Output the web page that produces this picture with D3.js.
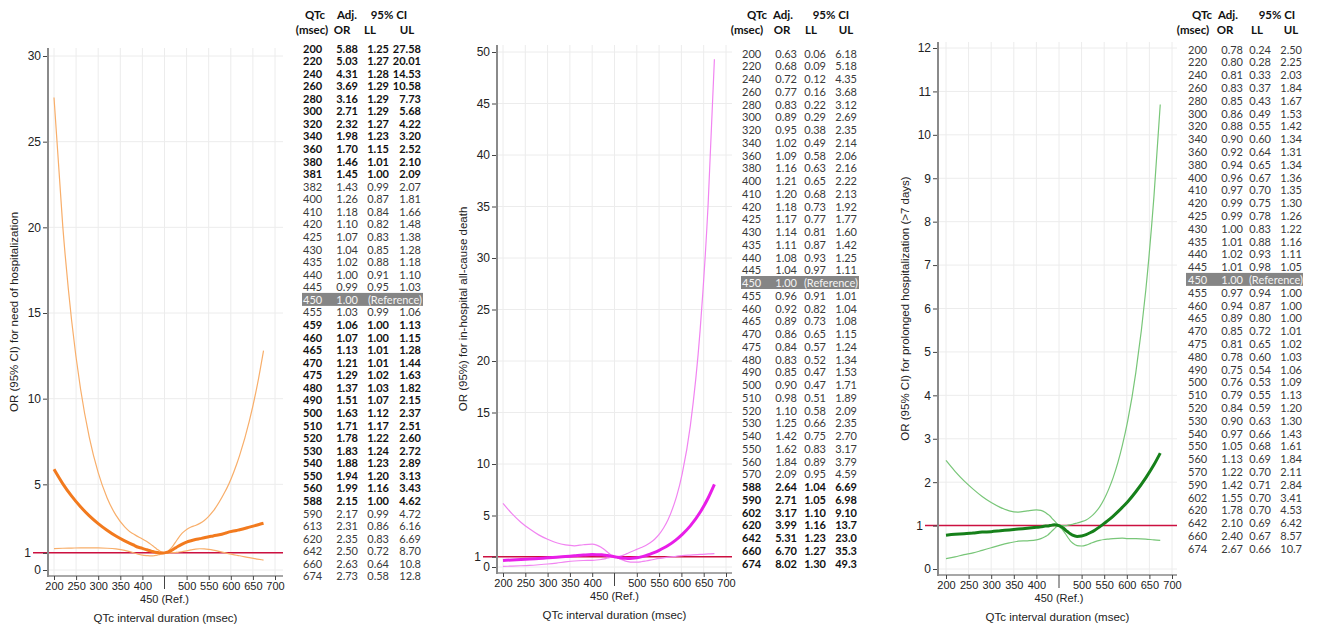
<!DOCTYPE html>
<html><head><meta charset="utf-8">
<script src="https://cdn.jsdelivr.net/npm/d3@7"></script>
<style>body{margin:0;background:#fff;} svg{display:block;}</style>
</head><body><svg id="c" width="1317" height="627"></svg>
<script>
// ---------- data ----------
const xTicks = [200,250,300,350,400,500,550,600,650,700];
const gridX = [200,250,300,350,400,450,500,550,600,650,700];
const refQTc = 450;
const refLabel = "450 (Ref.)";
const xTitle = "QTc interval duration (msec)";
const headers1 = ["QTc","Adj.","95% CI"];
const headers2 = ["(msec)","OR","LL","UL"];
const refText = "(Reference)";

const p1Title = "OR (95% CI) for need of hospitalization";
const p1YTicks = [0,1,5,10,15,20,25,30];
const p1Qtc = [200,220,240,260,280,300,320,340,360,380,381,382,400,410,420,425,430,435,440,445,450,455,459,460,465,470,475,480,490,500,510,520,530,540,550,560,588,590,613,620,642,660,674];
const p1OR = [5.88,5.03,4.31,3.69,3.16,2.71,2.32,1.98,1.70,1.46,1.45,1.43,1.26,1.18,1.10,1.07,1.04,1.02,1.00,0.99,1.00,1.03,1.06,1.07,1.13,1.21,1.29,1.37,1.51,1.63,1.71,1.78,1.83,1.88,1.94,1.99,2.15,2.17,2.31,2.35,2.50,2.63,2.73];
const p1LL = [1.25,1.27,1.28,1.29,1.29,1.29,1.27,1.23,1.15,1.01,1.00,0.99,0.87,0.84,0.82,0.83,0.85,0.88,0.91,0.95,1.00,0.99,1.00,1.00,1.01,1.01,1.02,1.03,1.07,1.12,1.17,1.22,1.24,1.23,1.20,1.16,1.00,0.99,0.86,0.83,0.72,0.64,0.58];
const p1UL = [27.58,20.01,14.53,10.58,7.73,5.68,4.22,3.20,2.52,2.10,2.09,2.07,1.81,1.66,1.48,1.38,1.28,1.18,1.10,1.03,1.00,1.06,1.13,1.15,1.28,1.44,1.63,1.82,2.15,2.37,2.51,2.60,2.72,2.89,3.13,3.43,4.62,4.72,6.16,6.69,8.70,10.8,12.8];
const p1Bold = [[200,381],[459,588]];

const p2Title = "OR (95%) for in-hospital all-cause death";
const p2YTicks = [0,1,5,10,15,20,25,30,35,40,45,50];
const p2Qtc = [200,220,240,260,280,300,320,340,360,380,400,410,420,425,430,435,440,445,450,455,460,465,470,475,480,490,500,510,520,530,540,550,560,570,588,590,602,620,642,660,674];
const p2OR = [0.63,0.68,0.72,0.77,0.83,0.89,0.95,1.02,1.09,1.16,1.21,1.20,1.18,1.17,1.14,1.11,1.08,1.04,1.00,0.96,0.92,0.89,0.86,0.84,0.83,0.85,0.90,0.98,1.10,1.25,1.42,1.62,1.84,2.09,2.64,2.71,3.17,3.99,5.31,6.70,8.02];
const p2LL = [0.06,0.09,0.12,0.16,0.22,0.29,0.38,0.49,0.58,0.63,0.65,0.68,0.73,0.77,0.81,0.87,0.93,0.97,1.00,0.91,0.82,0.73,0.65,0.57,0.52,0.47,0.47,0.51,0.58,0.66,0.75,0.83,0.89,0.95,1.04,1.05,1.10,1.16,1.23,1.27,1.30];
const p2UL = [6.18,5.18,4.35,3.68,3.12,2.69,2.35,2.14,2.06,2.16,2.22,2.13,1.92,1.77,1.60,1.42,1.25,1.11,1.00,1.01,1.04,1.08,1.15,1.24,1.34,1.53,1.71,1.89,2.09,2.35,2.70,3.17,3.79,4.59,6.69,6.98,9.10,13.7,23.0,35.3,49.3];
const p2Bold = [[588,674]];

const p3Title = "OR (95% CI) for prolonged hospitalization (>7 days)";
const p3YTicks = [0,1,2,3,4,5,6,7,8,9,10,11,12];
const p3Qtc = [200,220,240,260,280,300,320,340,360,380,400,410,420,425,430,435,440,445,450,455,460,465,470,475,480,490,500,510,520,530,540,550,560,570,590,602,620,642,660,674];
const p3OR = [0.78,0.80,0.81,0.83,0.85,0.86,0.88,0.90,0.92,0.94,0.96,0.97,0.99,0.99,1.00,1.01,1.02,1.01,1.00,0.97,0.94,0.89,0.85,0.81,0.78,0.75,0.76,0.79,0.84,0.90,0.97,1.05,1.13,1.22,1.42,1.55,1.78,2.10,2.40,2.67];
const p3LL = [0.24,0.28,0.33,0.37,0.43,0.49,0.55,0.60,0.64,0.65,0.67,0.70,0.75,0.78,0.83,0.88,0.93,0.98,1.00,0.94,0.87,0.80,0.72,0.65,0.60,0.54,0.53,0.55,0.59,0.63,0.66,0.68,0.69,0.70,0.71,0.70,0.70,0.69,0.67,0.66];
const p3UL = [2.50,2.25,2.03,1.84,1.67,1.53,1.42,1.34,1.31,1.34,1.36,1.35,1.30,1.26,1.22,1.16,1.11,1.05,1.00,1.00,1.00,1.00,1.01,1.02,1.03,1.06,1.09,1.13,1.20,1.30,1.43,1.61,1.84,2.11,2.84,3.41,4.53,6.42,8.57,10.7];
const p3Bold = [];

// ---------- layout / style ----------
const panels = [
  {title:p1Title, yTicks:p1YTicks, qtc:p1Qtc, or:p1OR, ll:p1LL, ul:p1UL, bold:p1Bold, ymax:30,
   x200:54, x700:275, xL:48, xR:283, yTop:48, yBot:576, y0:570, yMaxPix:56, redX0:33, titleX:14,
   main:"#f27a1e", ci:"#f8ae6a",
   t:{qx:303, orR:358, llR:389, ulR:421, y0:48, step:12.57, hx:[315,347,389], hx2:[312,342,370,407], bgL:302, bgR:423}},
  {title:p2Title, yTicks:p2YTicks, qtc:p2Qtc, or:p2OR, ll:p2LL, ul:p2UL, bold:p2Bold, ymax:50,
   x200:503, x700:726, xL:497, xR:732, yTop:45, yBot:573, y0:567, yMaxPix:52, redX0:483, titleX:463,
   main:"#e81ee8", ci:"#f184f1",
   t:{qx:742, orR:797, llR:826, ulR:857, y0:53, step:12.75, hx:[757,783,831], hx2:[747,782,811,846], bgL:741, bgR:859}},
  {title:p3Title, yTicks:p3YTicks, qtc:p3Qtc, or:p3OR, ll:p3LL, ul:p3UL, bold:p3Bold, ymax:12,
   x200:946, x700:1172, xL:938, xR:1177, yTop:42, yBot:575, y0:569, yMaxPix:48, redX0:925, titleX:905,
   main:"#16801a", ci:"#78c678",
   t:{qx:1188, orR:1243, llR:1271, ulR:1302, y0:49, step:12.8, hx:[1202,1228,1277], hx2:[1193,1225,1257,1291], bgL:1186, bgR:1303}}
];

const fmt = v => (v >= 10 && Math.abs(v*10 - Math.round(v*10)) < 1e-9) ? v.toFixed(1) : v.toFixed(2);
const svg = d3.select("#c");
const axisFont = "'Liberation Sans', Arial, sans-serif";
const tabFont = "Lato, 'Open Sans', sans-serif";

panels.forEach(p => {
  const x = d3.scaleLinear().domain([200,700]).range([p.x200, p.x700]);
  const y = d3.scaleLinear().domain([0,p.ymax]).range([p.y0, p.yMaxPix]);
  const g = svg.append("g");

  // grid
  g.selectAll(".gx").data(gridX).enter().append("line")
    .attr("x1", d=>x(d)).attr("x2", d=>x(d)).attr("y1", p.yTop).attr("y2", p.yBot)
    .attr("stroke", "#ececec").attr("stroke-width", 1);
  g.selectAll(".gy").data(p.yTicks).enter().append("line")
    .attr("x1", p.xL).attr("x2", p.xR).attr("y1", d=>y(d)).attr("y2", d=>y(d))
    .attr("stroke", "#ececec").attr("stroke-width", 1);

  // reference line at OR = 1
  g.append("line").attr("x1", p.redX0).attr("x2", p.xR).attr("y1", y(1)).attr("y2", y(1))
    .attr("stroke", "#cc1040").attr("stroke-width", 1.5);

  // curves
  const pts = key => p.qtc.map((q,i)=>[q, p[key][i]]);
  const line = d3.line().x(d=>x(d[0])).y(d=>y(d[1])).curve(d3.curveMonotoneX);
  ["ll","ul"].forEach(k => g.append("path").attr("d", line(pts(k)))
    .attr("fill","none").attr("stroke", p.ci).attr("stroke-width", 1.2));
  g.append("path").attr("d", line(pts("or")))
    .attr("fill","none").attr("stroke", p.main).attr("stroke-width", 3);

  // axes lines
  g.append("line").attr("x1", p.xL).attr("x2", p.xL).attr("y1", p.yTop).attr("y2", p.yBot+1)
    .attr("stroke", "#8a8a8a").attr("stroke-width", 2);
  g.append("line").attr("x1", p.xL).attr("x2", p.xR).attr("y1", p.yBot).attr("y2", p.yBot)
    .attr("stroke", "#8a8a8a").attr("stroke-width", 1.5);

  // y axis
  const ya = g.append("g").attr("transform", `translate(${p.xL-1},0)`)
    .call(d3.axisLeft(y).tickValues(p.yTicks).tickSize(4).tickSizeOuter(0).tickFormat(d3.format("d")));
  ya.select(".domain").remove();
  ya.selectAll("line").attr("stroke","#444");
  ya.selectAll("text").attr("font-family", axisFont).attr("font-size", 12).attr("fill","#222")
    .attr("x", d => d === 1 ? (p.redX0 - p.xL - 1) : -6);

  // x axis
  const xa = g.append("g").attr("transform", `translate(0,${p.yBot})`)
    .call(d3.axisBottom(x).tickValues(xTicks).tickSize(4).tickSizeOuter(0).tickFormat(d3.format("d")));
  xa.select(".domain").remove();
  xa.selectAll("line").attr("stroke","#444");
  xa.selectAll("text").attr("font-family", axisFont).attr("font-size", 11).attr("fill","#222").attr("y",6);
  // reference tick
  g.append("line").attr("x1", x(refQTc)).attr("x2", x(refQTc)).attr("y1", p.yBot).attr("y2", p.yBot+13)
    .attr("stroke","#444");
  g.append("text").attr("x", x(refQTc)).attr("y", p.yBot+27).attr("text-anchor","middle")
    .attr("font-family", axisFont).attr("font-size", 11).attr("fill","#222").text(refLabel);
  g.append("text").attr("x", (p.xL+p.xR)/2).attr("y", p.yBot+46).attr("text-anchor","middle")
    .attr("font-family", axisFont).attr("font-size", 11.5).attr("fill","#222").text(xTitle);
  // y title
  g.append("text").attr("transform", `translate(${p.titleX},${(p.yTop+p.yBot)/2}) rotate(-90)`)
    .attr("text-anchor","middle").attr("dominant-baseline","central")
    .attr("font-family", axisFont).attr("font-size", 11.5).attr("fill","#222").text(p.title);

  // table
  const t = p.t;
  const tg = svg.append("g").attr("font-family", tabFont);
  headers1.forEach((h,i) => tg.append("text").attr("x", t.hx[i]).attr("y", 19).attr("text-anchor","middle")
    .attr("font-size", 11.5).attr("font-weight","bold").attr("fill","#111").text(h));
  headers2.forEach((h,i) => tg.append("text").attr("x", t.hx2[i]).attr("y", 34).attr("text-anchor","middle")
    .attr("font-size", 11.5).attr("font-weight","bold").attr("fill","#111").text(h));
  p.qtc.forEach((q,i) => {
    const cy = t.y0 + i*t.step;
    const isRef = q === refQTc;
    const isBold = p.bold.some(r => q>=r[0] && q<=r[1]);
    const col = isRef ? "#f4f4f4" : (isBold ? "#111" : "#3a3a3a");
    const fw = isBold ? "bold" : "normal";
    if (isRef) tg.append("rect").attr("x", t.bgL).attr("y", cy-6.5).attr("width", t.bgR-t.bgL).attr("height", 13).attr("fill","#858585");
    const txt = (xx, anchor, s) => tg.append("text").attr("x", xx).attr("y", cy).attr("dominant-baseline","central")
      .attr("text-anchor", anchor).attr("font-size", 11).attr("font-weight", fw).attr("fill", col).text(s);
    txt(t.qx, "start", q);
    txt(t.orR, "end", fmt(p.or[i]));
    if (isRef) txt(t.ulR+1, "end", refText);
    else { txt(t.llR, "end", fmt(p.ll[i])); txt(t.ulR, "end", fmt(p.ul[i])); }
  });
});
</script></body></html>
